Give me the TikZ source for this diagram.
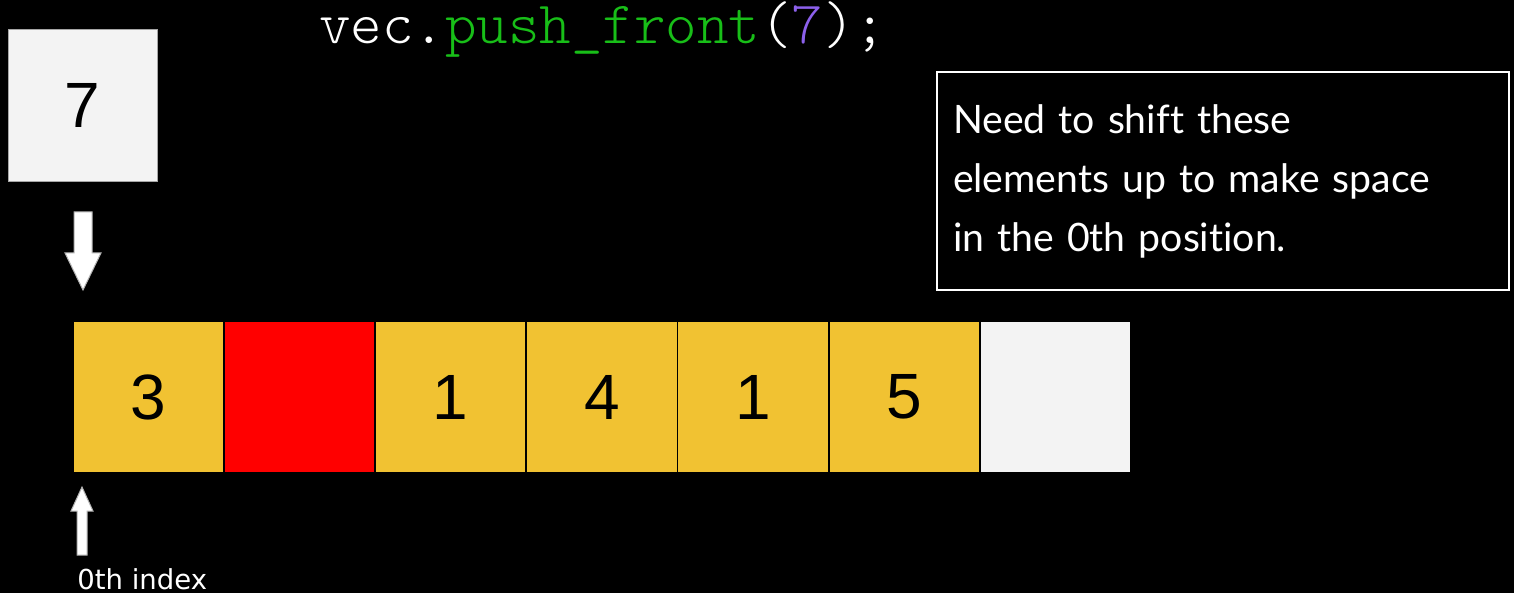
\documentclass[tikz,border=0pt]{standalone}
\usepackage{fontspec}
\setmainfont{Liberation Sans}
\newfontfamily\codefont{Latin Modern Mono Light}
\newfontfamily\notefont[Ligatures=NoCommon]{Lato}
\newfontfamily\labelfont{DejaVu Sans}
\definecolor{cellgold}{HTML}{F1C232}
\definecolor{cellred}{HTML}{FF0000}
\definecolor{cellempty}{HTML}{F3F3F3}
\definecolor{codegreen}{RGB}{24,190,24}
\definecolor{codepurple}{RGB}{140,96,235}
\begin{document}
\begin{tikzpicture}[
    x=0.5pt,y=-0.5pt,
    cell/.style={draw=black,line width=0.8pt,minimum width=75.5pt,
        minimum height=76pt,inner sep=0pt,outer sep=0pt,anchor=north west,
        font=\fontsize{32}{32}\selectfont},
    blockarrow/.style={fill=white,draw=gray!60,line width=0.5pt},
    notebox/.style={draw=white,line width=1pt,fill=black,text=white,
        minimum width=286pt,minimum height=109pt,anchor=north west,
        text width=270pt,inner xsep=8pt,outer sep=0pt,align=left,
        font=\notefont\fontsize{19.6}{29.5}\selectfont}]
    \fill[black] (0,0) rectangle (1514,593);
    \useasboundingbox (0,0) rectangle (1514,593);
    % the call
    \node[anchor=base west,inner sep=0pt,text=white,
        font=\codefont\fontsize{30}{30}\selectfont] (call) at (319,44)
        {vec.\textcolor{codegreen}{push\_front}(\textcolor{codepurple}{7});};
    % the value to insert
    \node[draw=gray!70,fill=cellempty,minimum width=74.5pt,minimum height=76pt,
        inner sep=0pt,font=\fontsize{32}{32}\selectfont] (newval) at (82.5,105) {7};
    \draw[blockarrow] (74,212) -- (92,212) -- (92,253) -- (101,253) --
        (83,290) -- (65,253) -- (74,253) -- cycle;
    % the vector
    \foreach \val/\col [count=\i from 0] in
        {3/cellgold,{}/cellred,1/cellgold,4/cellgold,1/cellgold,5/cellgold,{}/cellempty} {
        \node[cell,fill=\col] (cell\i) at ({73+151.14*\i},321) {\val};
    }
    % index marker
    \draw[blockarrow] (77,555) -- (87,555) -- (87,511) -- (93,511) --
        (82,487) -- (71,511) -- (77,511) -- cycle;
    \node[anchor=base west,inner sep=0pt,text=white,
        font=\labelfont\fontsize{13.75}{13.75}\selectfont] (idx) at (77,589) {0th index};
    % the note
    \node[notebox] (note) at (937,72)
        {Need to shift these\\elements up to make space\\in the 0th position.};
\end{tikzpicture}
\end{document}
